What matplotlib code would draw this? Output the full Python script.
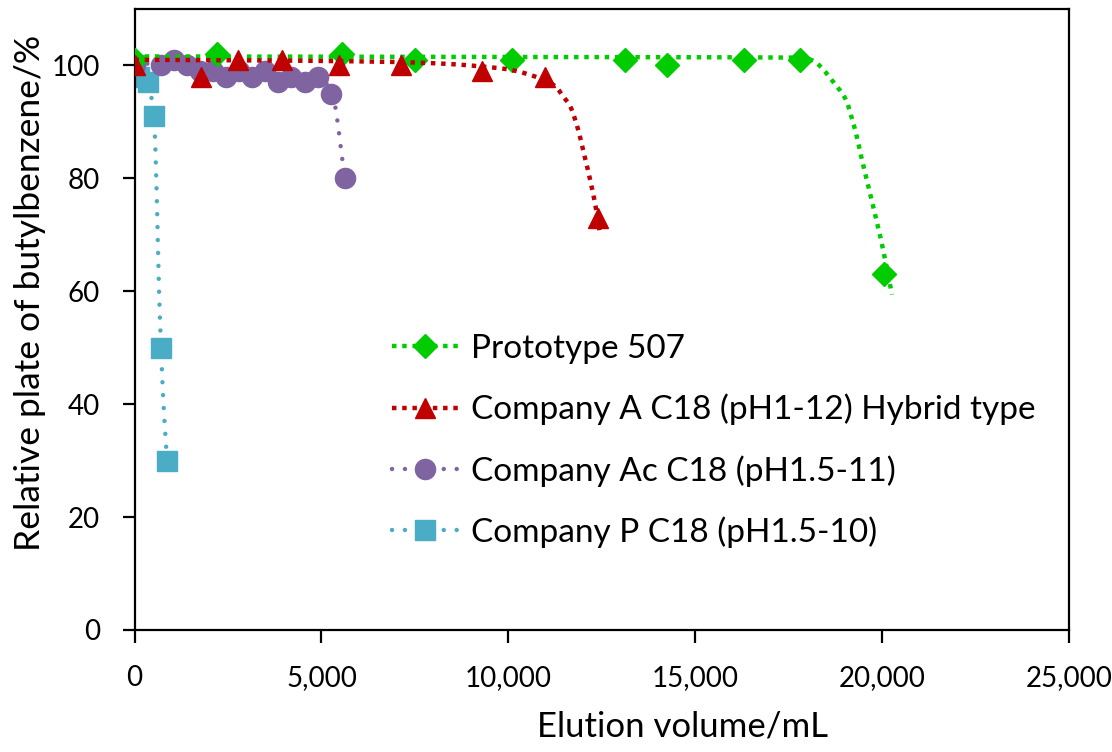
import numpy as np
import matplotlib
matplotlib.use("Agg")
import matplotlib.pyplot as plt
from matplotlib.ticker import FuncFormatter

plt.rcParams['font.family'] = ['Lato', 'DejaVu Sans']

proto_x = [0, 2200, 5550, 7500, 10100, 13120, 14250, 16300, 17800, 20050]
proto_y = [101, 102, 102, 101, 101, 101, 100, 101, 101, 63]

compA_x = [0, 1770, 2770, 3950, 5470, 7135, 9300, 10980, 12400]
compA_y = [100, 98, 101, 101, 100, 100, 99, 98, 73]

compAc_x = [0, 700, 1050, 1400, 1750, 2100, 2450, 2800, 3150, 3500, 3850,
            4200, 4550, 4900, 5250, 5630]
compAc_y = [100, 100, 101, 100, 99, 99, 98, 99, 98, 99, 97, 98, 97, 98, 95, 80]

compP_x = [0, 130, 360, 520, 710, 870]
compP_y = [100, 98, 97, 91, 50, 30]

# dotted trend curves (they do not pass through every point)
proto_fit_x = [0, 9000, 17500, 18000, 18290, 18690, 19010, 19190, 19330, 19460,
               19730, 20000, 20265]
proto_fit_y = [101.6, 101.5, 101.4, 101.2, 100.2, 97.1, 94.2, 90.7, 87.2, 83.3,
               75.9, 68.2, 59.4]

compA_fit_x = [0, 5000, 8000, 9780, 10400, 11070, 11300, 11470, 11600, 11700,
               11870, 12000, 12130, 12320, 12450]
compA_fit_y = [101, 100.8, 100.4, 99.5, 98.7, 97.1, 96.0, 94.5, 93.4, 92.1,
               88.6, 85.0, 81.5, 75.6, 70.3]

compAc_fit_x = [0, 2000, 4500, 5100, 5300, 5400, 5560, 5630]
compAc_fit_y = [100.5, 99.5, 98, 97, 94.5, 91.5, 83.3, 80]

compP_fit_x = [0, 130, 360, 440, 520, 590, 650, 710, 770, 870]
compP_fit_y = [100, 98, 97, 94.8, 91, 78.3, 61.5, 50, 40.7, 30]

labels = ["Prototype 507", "Company A C18 (pH1-12) Hybrid type",
          "Company Ac C18 (pH1.5-11)", "Company P C18 (pH1.5-10)"]

XMAX, YMAX = 25000, 110


def smooth(xs, ys, sx, sy, n=24):
    # smoothed line through the points, cubic bezier with chord-length tangents
    # (worked out in pixel space so uneven spacing does not overshoot)
    pts = np.column_stack([np.asarray(xs, float) * sx, np.asarray(ys, float) * sy])
    d = np.linalg.norm(np.diff(pts, axis=0), axis=1)
    m = np.zeros_like(pts)
    m[0] = (pts[1] - pts[0]) / d[0]
    m[-1] = (pts[-1] - pts[-2]) / d[-1]
    for i in range(1, len(pts) - 1):
        m[i] = (pts[i + 1] - pts[i - 1]) / (d[i - 1] + d[i])
    out = [pts[0]]
    t = np.linspace(0, 1, n)[1:, None]
    for i in range(len(pts) - 1):
        p1, p2 = pts[i], pts[i + 1]
        c1 = p1 + m[i] * d[i] / 3
        c2 = p2 - m[i + 1] * d[i] / 3
        seg = (1 - t)**3 * p1 + 3 * (1 - t)**2 * t * c1 + 3 * (1 - t) * t**2 * c2 + t**3 * p2
        out.extend(seg)
    out = np.array(out)
    return out[:, 0] / sx, out[:, 1] / sy


fig = plt.figure(figsize=(11.12, 7.52), dpi=100)
ax = fig.add_axes([134.5 / 1112, 1 - 630 / 752, 934.5 / 1112, 621 / 752])
ax.set_xlim(0, XMAX)
ax.set_ylim(0, YMAX)

# pixel per data unit, for the smoothing
sx = 934.5 / XMAX
sy = 621 / YMAX

sq_dot = (0, (1, 1.3))
rd_dot = (0, (0.01, 2.9))
series = [
    (proto_x, proto_y, proto_fit_x, proto_fit_y, '#00CC00', 'D', 12, sq_dot, 'butt', 4),
    (compA_x, compA_y, compA_fit_x, compA_fit_y, '#C00000', '^', 14, sq_dot, 'butt', 5),
    (compAc_x, compAc_y, compAc_fit_x, compAc_fit_y, '#8064A2', 'o', 14.5, rd_dot, 'round', 3),
    (compP_x, compP_y, compP_fit_x, compP_fit_y, '#4BACC6', 's', 14, rd_dot, 'round', 2),
]

handles = []
for (xs, ys, fx, fy, col, mk, ms, ls, cap, z), lab in zip(series, labels):
    lx, ly = smooth(fx, fy, sx, sy)
    ax.plot(lx, ly, color=col, lw=3.2, linestyle=ls, dash_capstyle=cap, zorder=z)
    ax.plot(xs, ys, linestyle='none', marker=mk, ms=ms, color=col, mec=col, zorder=z + 0.5)
    h, = ax.plot([], [], color=col, lw=3.2, linestyle=ls, dash_capstyle=cap,
                 marker=mk, ms=ms, mec=col)
    handles.append(h)

ax.set_xticks(np.arange(0, 25001, 5000))
ax.set_yticks(np.arange(0, 101, 20))
ax.xaxis.set_major_formatter(FuncFormatter(lambda v, p: f"{int(v):,}"))
ax.tick_params(direction='out', length=9, width=1.6, labelsize=20, pad=16)
for s in ax.spines.values():
    s.set_linewidth(1.6)

ax.set_xlabel("Elution volume/mL", fontsize=25, va='baseline')
ax.xaxis.set_label_coords(0.5864, -0.1723)
fig.text(30 / 1112, 1 - 293 / 752, "Relative plate of butylbenzene/%", fontsize=25.5,
         rotation=90, ha='center', va='center')

fig.legend(handles, labels, loc='upper left', bbox_to_anchor=(392 / 1112, 1 - 334 / 752),
           frameon=False, fontsize=24, numpoints=1, handlelength=2.0,
           handletextpad=0.36, labelspacing=0.89, borderpad=0, borderaxespad=0)

fig.savefig("out.png", dpi=100)
